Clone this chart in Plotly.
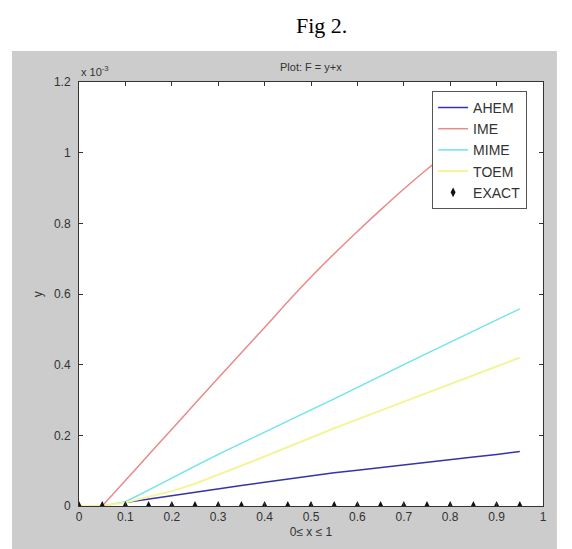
import plotly.graph_objects as go

# values are in units of 1e-3 (axis multiplier shown as "x 10^-3")
x_exact = [0.0, 0.05, 0.1, 0.15, 0.2, 0.25, 0.3, 0.35, 0.4, 0.45, 0.5,
           0.55, 0.6, 0.65, 0.7, 0.75, 0.8, 0.85, 0.9, 0.95]
y_exact = [0.0] * 20

x_ime = [0.05, 0.1, 0.15, 0.2, 0.25, 0.3, 0.35, 0.4, 0.45, 0.5,
         0.55, 0.6, 0.65, 0.7, 0.75, 0.8, 0.85, 0.9, 0.95]
y_ime = [0.0, 0.072, 0.145, 0.217, 0.29, 0.362, 0.434, 0.505, 0.578, 0.648,
         0.714, 0.777, 0.838, 0.897, 0.953, 1.006, 1.057, 1.106, 1.153]

x_mime = [0.05, 0.1, 0.15, 0.2, 0.25, 0.3, 0.35, 0.4, 0.45, 0.5,
          0.55, 0.6, 0.65, 0.7, 0.75, 0.8, 0.85, 0.9, 0.95]
y_mime = [0.0, 0.012, 0.045, 0.08, 0.113, 0.146, 0.178, 0.21, 0.241, 0.272,
          0.303, 0.336, 0.368, 0.40, 0.432, 0.463, 0.495, 0.527, 0.558]

x_toem = [0.0, 0.05, 0.1, 0.15, 0.2, 0.25, 0.3, 0.35, 0.4, 0.45, 0.5,
          0.55, 0.6, 0.65, 0.7, 0.75, 0.8, 0.85, 0.9, 0.95]
y_toem = [0.0, 0.0, 0.01, 0.025, 0.042, 0.063, 0.088, 0.114, 0.14, 0.167, 0.194,
          0.22, 0.245, 0.27, 0.295, 0.32, 0.345, 0.37, 0.395, 0.42]

x_ahem = [0.1, 0.15, 0.2, 0.25, 0.3, 0.35, 0.4, 0.45, 0.5,
          0.55, 0.6, 0.65, 0.7, 0.75, 0.8, 0.85, 0.9, 0.95]
y_ahem = [0.01, 0.02, 0.03, 0.04, 0.049, 0.058, 0.067, 0.076, 0.086,
          0.094, 0.101, 0.109, 0.116, 0.124, 0.131, 0.139, 0.146, 0.154]

x_ticks = [0, 0.1, 0.2, 0.3, 0.4, 0.5, 0.6, 0.7, 0.8, 0.9, 1]
x_tick_text = ["0", "0.1", "0.2", "0.3", "0.4", "0.5", "0.6", "0.7", "0.8", "0.9", "1"]
y_ticks = [0, 0.2, 0.4, 0.6, 0.8, 1.0, 1.2]
y_tick_text = ["0", "0.2", "0.4", "0.6", "0.8", "1", "1.2"]

fig = go.Figure()
fig.add_trace(go.Scatter(x=x_ahem, y=y_ahem, mode="lines", name="AHEM",
                         line=dict(color="#3434a4", width=1.5)))
fig.add_trace(go.Scatter(x=x_ime, y=y_ime, mode="lines", name="IME",
                         line=dict(color="#e88a8a", width=1.5, shape="spline")))
fig.add_trace(go.Scatter(x=x_mime, y=y_mime, mode="lines", name="MIME",
                         line=dict(color="#70e4ec", width=1.5)))
fig.add_trace(go.Scatter(x=x_toem, y=y_toem, mode="lines", name="TOEM",
                         line=dict(color="#f6f49a", width=2)))
fig.add_trace(go.Scatter(x=x_exact, y=y_exact, mode="markers", name="EXACT",
                         marker=dict(symbol="diamond-tall", size=7, color="#111111")))

# gray MATLAB-style figure background, then white axes area
fig.add_shape(type="rect", xref="paper", yref="paper",
              x0=-0.1444, x1=1.030, y0=-0.14, y1=1.073,
              fillcolor="#cccccc", line=dict(width=0), layer="below")
fig.add_shape(type="rect", xref="paper", yref="paper",
              x0=0, x1=1, y0=0, y1=1,
              fillcolor="white", line=dict(width=0), layer="below")

font_ax = dict(family="Liberation Sans, Arial", size=12, color="#333333")

fig.update_layout(
    width=572, height=549,
    margin=dict(l=71, r=37, t=74, b=51, autoexpand=False),
    paper_bgcolor="white",
    plot_bgcolor="rgba(0,0,0,0)",
    showlegend=True,
    legend=dict(x=0.761, y=0.979, xanchor="left", yanchor="top",
                bgcolor="white", bordercolor="#555555", borderwidth=1,
                font=dict(family="Liberation Sans, Arial", size=14, color="#333333"),
                itemwidth=30, tracegroupgap=0),
    xaxis=dict(range=[0, 1], tickvals=x_ticks, ticktext=x_tick_text,
               ticks="inside", ticklen=4, tickcolor="#333333",
               showline=True, linecolor="#333333", linewidth=1, mirror="ticks",
               showgrid=False, zeroline=False, tickfont=font_ax,
               title=dict(text="0≤ x ≤ 1", font=font_ax, standoff=4)),
    yaxis=dict(range=[0, 1.2], tickvals=y_ticks, ticktext=y_tick_text,
               ticks="inside", ticklen=4, tickcolor="#333333",
               showline=True, linecolor="#333333", linewidth=1, mirror="ticks",
               showgrid=False, zeroline=False, tickfont=font_ax,
               ticklabelstandoff=5),
    annotations=[
        dict(text="Fig 2.", xref="paper", yref="paper", x=0.5216, y=1.134,
             xanchor="center", yanchor="middle", showarrow=False,
             font=dict(family="Liberation Serif, Times New Roman", size=22, color="black")),
        dict(text="Plot: F = y+x", xref="paper", yref="paper", x=0.5, y=1.035,
             xanchor="center", yanchor="middle", showarrow=False,
             font=dict(family="Liberation Sans, Arial", size=11, color="#333333")),
        dict(text="x 10<sup>-3</sup>", xref="paper", yref="paper", x=0.0, y=1.0,
             xanchor="left", yanchor="bottom", showarrow=False, yshift=2,
             font=dict(family="Liberation Sans, Arial", size=11, color="#333333")),
        dict(text="y", xref="paper", yref="paper", x=-0.088, y=0.5,
             xanchor="center", yanchor="middle", showarrow=False, textangle=-90,
             font=font_ax),
    ],
)

fig.write_html("out.html")
